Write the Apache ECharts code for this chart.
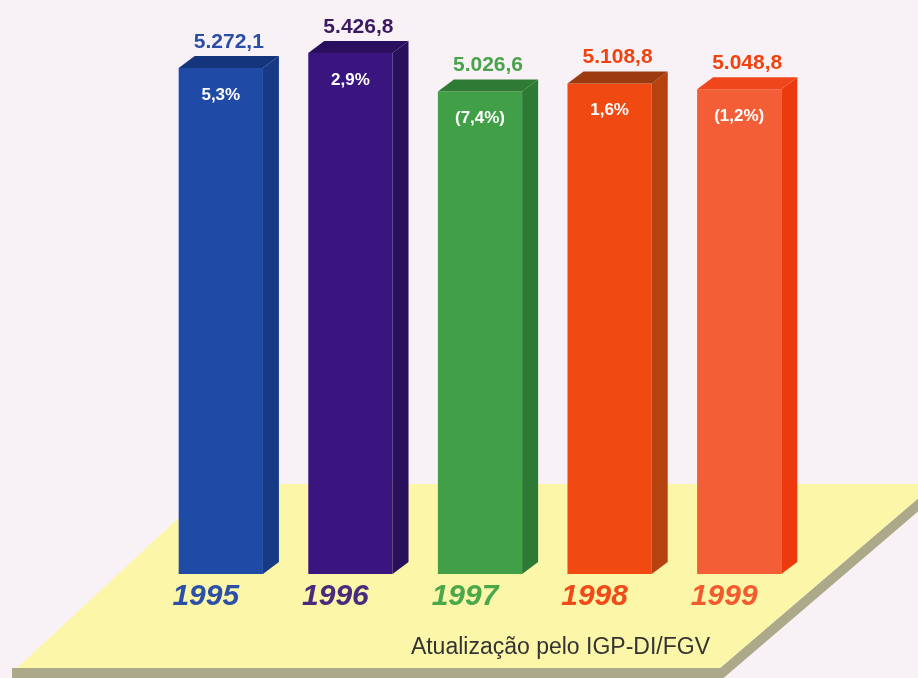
<!DOCTYPE html>
<html>
<head>
<meta charset="utf-8">
<script src="https://cdn.jsdelivr.net/npm/echarts@6/dist/echarts.min.js"></script>
<style>
  html, body { margin: 0; padding: 0; background: #f8f2f6; }
  #chart { width: 918px; height: 678px; }
</style>
</head>
<body>
<div id="chart"></div>
<script>
// data
const years = ['1995', '1996', '1997', '1998', '1999'];
const values = [5272.1, 5426.8, 5026.6, 5108.8, 5048.8];
const changes = ['5,3%', '2,9%', '(7,4%)', '1,6%', '(1,2%)'];

// colours per bar
const frontColors = ['#1f4aa6', '#3a1580', '#41a047', '#f04a12', '#f45e36'];
const sideColors = ['#163a86', '#28105c', '#2c7a33', '#b5420f', '#ec3a0e'];
const topColors = ['#14347c', '#2a0f5e', '#2e7b35', '#9c3b10', '#f0461c'];
const labelColors = ['#2a4ea4', '#3c1a62', '#4aa34a', '#f0420f', '#f0420f'];
const yearColors = ['#2c50a8', '#4a2a7c', '#4aa84a', '#f04a18', '#f25a30'];

const DX = 16, DY = 12;
const FONT = '"Liberation Sans", Arial, sans-serif';

function fmt(v) {
  const parts = v.toFixed(1).split('.');
  return parts[0].replace(/\B(?=(\d{3})+(?!\d))/g, '.') + ',' + parts[1];
}

function renderBar(params, api) {
  const i = api.value(0);
  const v = api.value(1);
  const top = api.coord([i, v]);
  const base = api.coord([i, 0]);
  const bw = api.size([1, 0])[0] * 0.65;
  const x0 = top[0] - bw / 2, x1 = top[0] + bw / 2;
  const yT = top[1], yB = base[1];
  return {
    type: 'group',
    children: [
      { type: 'rect', shape: { x: x0, y: yT, width: bw, height: yB - yT }, style: { fill: frontColors[i] } },
      { type: 'polygon', shape: { points: [[x1, yT], [x1 + DX, yT - DY], [x1 + DX, yB - DY], [x1, yB]] }, style: { fill: sideColors[i] } },
      { type: 'polygon', shape: { points: [[x0, yT], [x0 + DX, yT - DY], [x1 + DX, yT - DY], [x1, yT]] }, style: { fill: topColors[i] } },
      { type: 'text', x: top[0] + 8, y: yT - 26, style: { text: fmt(v), fill: labelColors[i], font: 'bold 21px ' + FONT, align: 'center', verticalAlign: 'middle' } },
      { type: 'text', x: top[0], y: yT + 27, style: { text: changes[i], fill: '#ffffff', font: 'bold 17px ' + FONT, align: 'center', verticalAlign: 'middle' } },
      { type: 'text', x: top[0] - 15, y: yB + 23, style: { text: years[i], fill: yearColors[i], font: 'italic bold 30px ' + FONT, align: 'center', verticalAlign: 'middle' } }
    ]
  };
}

const chart = echarts.init(document.getElementById('chart'));
chart.setOption({
  backgroundColor: '#f8f2f6',
  animation: false,
  title: {
    text: 'Atualização pelo IGP-DI/FGV',
    right: 203,
    top: 631,
    textStyle: { fontSize: 23, fontWeight: 'normal', color: '#333333', fontFamily: FONT }
  },
  grid: { left: 156, right: 114, top: 46, bottom: 104 },
  xAxis: { type: 'category', data: years, show: false },
  yAxis: { type: 'value', min: 0, max: 5500, show: false },
  graphic: [
    {
      type: 'polygon', z: 0,
      shape: { points: [[12, 668], [720, 668], [935, 484], [935, 497], [720, 681], [12, 681]] },
      style: { fill: '#aca98a' }
    },
    {
      type: 'polygon', z: 0,
      shape: { points: [[215, 484], [935, 484], [720, 668], [17, 668]] },
      style: { fill: '#fcf6a8' }
    }
  ],
  series: [{
    type: 'custom',
    renderItem: renderBar,
    data: values.map((v, i) => [i, v]),
    z: 5
  }]
});
</script>
</body>
</html>
